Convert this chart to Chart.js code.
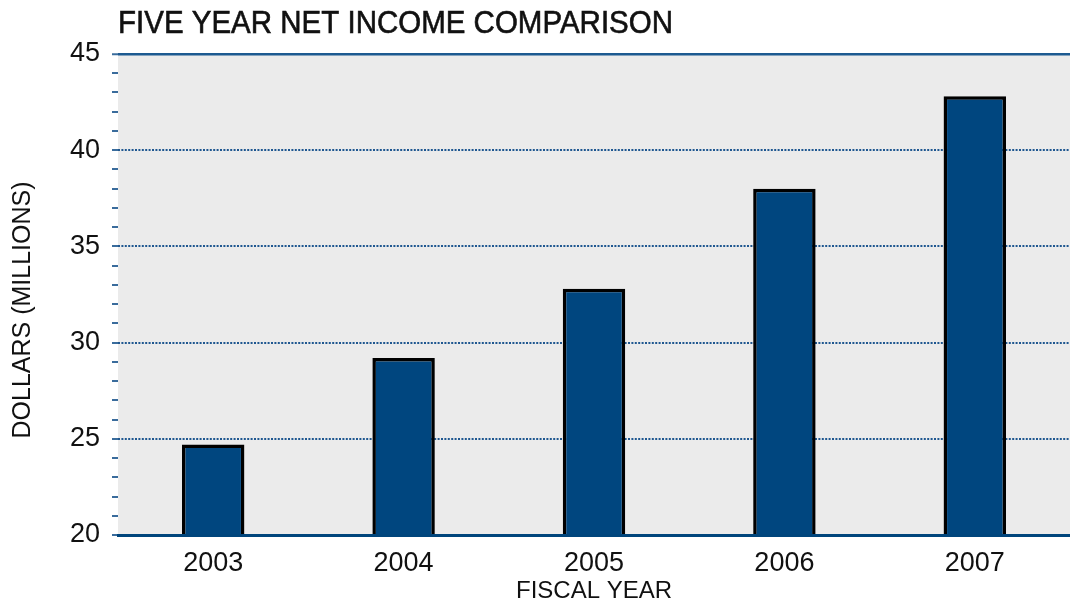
<!DOCTYPE html>
<html>
<head>
<meta charset="utf-8">
<script src="https://cdn.jsdelivr.net/npm/chart.js@4"></script>
<style>
    html, body { margin: 0; padding: 0; background: #fff; }
    #wrap { width: 1070px; height: 608px; }
</style>
</head>
<body>
<div id="wrap"><canvas id="BarChart"></canvas></div>
<script>
const years = ['2003', '2004', '2005', '2006', '2007'];
const netIncome = [24.7, 29.2, 32.8, 38.0, 42.8];
const yMin = 20;
const yMax = 45;
const majorStep = 5;

const chartTitle = 'FIVE YEAR NET INCOME COMPARISON';
const xTitle = 'FISCAL YEAR';
const yTitle = 'DOLLARS (MILLIONS)';

const FONT = "'Liberation Sans', Arial, sans-serif";

// grey plot background, heading and the rotated y caption
const plotDecor = {
    id: 'plotDecor',
    beforeDraw(chart) {
        const { ctx, chartArea: a } = chart;
        ctx.save();
        ctx.fillStyle = '#ebebeb';
        ctx.fillRect(a.left, a.top, a.right - a.left, a.bottom - a.top);
        ctx.restore();
    },
    afterDraw(chart) {
        const { ctx, chartArea: a } = chart;
        ctx.save();
        ctx.font = '31px ' + FONT;
        ctx.fillStyle = '#111';
        ctx.strokeStyle = '#111';
        ctx.lineWidth = 0.6;
        ctx.textAlign = 'left';
        ctx.textBaseline = 'alphabetic';
        // squeeze slightly so the heading ends where the original does
        const w = ctx.measureText(chartTitle).width;
        ctx.translate(a.left, 33);
        ctx.scale(555 / w, 1);
        ctx.fillText(chartTitle, 0, 0);
        ctx.strokeText(chartTitle, 0, 0);
        ctx.restore();

        ctx.save();
        ctx.font = '25px ' + FONT;
        ctx.fillStyle = '#111';
        ctx.textAlign = 'center';
        ctx.textBaseline = 'middle';
        ctx.translate(23, 310);
        ctx.rotate(-Math.PI / 2);
        ctx.fillText(yTitle, 0, 0);
        ctx.restore();
    }
};

const isMajor = (v) => v % majorStep === 0;

document.addEventListener('DOMContentLoaded', () => {
    const ctxBar = document.getElementById('BarChart').getContext('2d');

    new Chart(ctxBar, {
        type: 'bar',
        data: {
            labels: years,
            datasets: [{
                label: 'Net income',
                data: netIncome,
                backgroundColor: '#00467f',
                borderColor: '#000',
                borderWidth: 3.5,
                categoryPercentage: 1,
                barPercentage: 0.328,
            }]
        },
        plugins: [plotDecor],
        options: {
            responsive: true,
            maintainAspectRatio: false,
            animation: false,
            layout: { padding: { top: 54, left: 0, right: 0, bottom: 0 } },
            plugins: {
                legend: { display: false },
                tooltip: { enabled: false },
            },
            scales: {
                x: {
                    afterFit: (s) => { s.height = 73; },
                    grid: { display: false },
                    border: { display: true, color: '#00457c', width: 3, z: 1 },
                    ticks: {
                        color: '#111',
                        font: { family: FONT, size: 27 },
                        padding: 4,
                    },
                    title: {
                        display: true,
                        text: xTitle,
                        color: '#111',
                        font: { family: FONT, size: 24 },
                        padding: { top: 0, bottom: 2 },
                    }
                },
                y: {
                    min: yMin,
                    max: yMax,
                    afterFit: (s) => { s.width = 118; },
                    border: {
                        display: false,
                        dash: (c) => (c.tick && c.tick.value === yMax) ? [] : [2, 1.4],
                    },
                    grid: {
                        color: (c) => {
                            const v = c.tick.value;
                            if (v === yMax) return '#1d5a91';
                            if (v === yMin || !isMajor(v)) return 'rgba(0,0,0,0)';
                            return '#1f5790';
                        },
                        lineWidth: (c) => c.tick.value === yMax ? 2.5 : 2,
                        tickColor: '#3a6c9c',
                        tickLength: 6,
                        tickWidth: 2,
                    },
                    ticks: {
                        stepSize: 1,
                        autoSkip: false,
                        color: '#111',
                        padding: 12,
                        font: { family: FONT, size: 27 },
                        callback: (v) => isMajor(v) ? String(v) : '',
                    },
                    title: { display: false }
                }
            }
        }
    });
});
</script>
</body>
</html>
